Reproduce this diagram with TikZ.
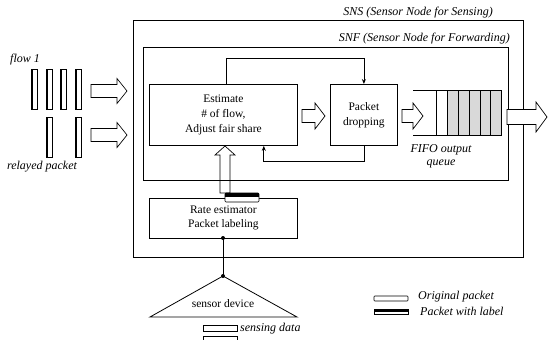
\documentclass[tikz,border=0pt]{standalone}
\usepackage{fontspec}
\setmainfont{Liberation Serif}
\usetikzlibrary{arrows.meta,calc}
% horizontal block arrow: x1, y, x2, shaft half, head half, head length
\newcommand{\myharrow}[6]{%
  \draw[blockarrow] (#1,#2-#4) -- (#3-#6,#2-#4) -- (#3-#6,#2-#5) -- (#3,#2)
     -- (#3-#6,#2+#5) -- (#3-#6,#2+#4) -- (#1,#2+#4) -- cycle;}
% vertical block arrow pointing up: x, y bottom, y tip, shaft half, head half, head length
\newcommand{\myvarrow}[6]{%
  \draw[blockarrow,fill=none] (#1-#4,#2) -- (#1-#4,#3+#6) -- (#1-#5,#3+#6) -- (#1,#3)
     -- (#1+#5,#3+#6) -- (#1+#4,#3+#6) -- (#1+#4,#2) -- cycle;}
\begin{document}
\begin{tikzpicture}[x=1pt,y=-1pt,
  box/.style={draw,line width=0.8pt,align=center,inner sep=0pt,font=\fontsize{11.5}{15}\selectfont},
  lbl/.style={font=\fontsize{12}{13}\selectfont\itshape,inner sep=0pt},
  blockarrow/.style={draw,fill=white,line width=0.7pt,line join=miter},
  fb/.style={line width=0.8pt,-{Stealth[length=5pt,width=4pt]}},
  pkt/.style={draw,line width=0.6pt},
  frame/.style={draw,line width=0.9pt}]
\useasboundingbox (0,0) rectangle (552,340);
% frames
\draw[frame] (133,20) rectangle (523,257);
\draw[frame] (143,47) rectangle (508,180);
\node[lbl,anchor=south east] (snslbl) at (493,18) {SNS (Sensor Node for Sensing)};
\node[lbl,anchor=south east] (snflbl) at (510,44) {SNF (Sensor Node for Forwarding)};
% boxes
\node[box,minimum width=148pt,minimum height=61pt,anchor=north west] (est) at (149,84)
  {Estimate\\\# of flow,\\Adjust fair share};
\node[box,minimum width=67pt,minimum height=61pt,anchor=north west] (drop) at (330,84)
  {Packet\\dropping};
\node[box,minimum width=148pt,minimum height=40pt,anchor=north west,font=\fontsize{11.5}{14}\selectfont] (rate) at (149,198)
  {Rate estimator\\Packet labeling};
% feedback lines
\draw[fb] ($(est.north west)+(77,0)$) -- ++(0,-26) -| (drop.north);
\draw[fb] (drop.south) -- ++(0,16) -| ($(est.south east)+(-34,0)$);
% block arrows
\myharrow{91}{91}{127}{6.5}{12.5}{10}
\myharrow{91}{135}{127}{6.5}{12.5}{10}
\myharrow{302}{116}{325}{6.5}{13}{10}
\myharrow{402}{116}{423}{6.5}{13}{10}
\myharrow{507}{117}{547}{7.5}{15}{11}
\myvarrow{225}{193}{146}{5}{10}{9}
% queue
\fill[gray!30] (447,90) rectangle (501,135);
\draw[line width=0.8pt] (413,90) -- (501,90) -- (501,135) -- (413,135);
\foreach \x in {436,447,458,469,480,490}
  \draw[line width=0.6pt] (\x,90) -- (\x,135);
\node[lbl,align=center] (fifo) at (441,156) {FIFO output\\queue};
% labeled packet
\draw[pkt,fill=white,rounded corners=1pt] (225,193) rectangle (259,202);
\fill (225,193) rectangle (259,197);
% flow packets
\foreach \x in {31,46,60,75}{
  \draw[pkt] (\x,69) rectangle (\x+6,109);
  \draw[line width=1.8pt] (\x+0.9,69) -- (\x+0.9,109);}
\foreach \x in {46,75}{
  \draw[pkt] (\x,117) rectangle (\x+6,157);
  \draw[line width=1.8pt] (\x+0.9,117) -- (\x+0.9,157);}
\node[lbl,anchor=west] (flow) at (10,60) {flow 1};
\node[lbl] (relayed) at (42,167) {relayed packet};
% sensor
\coordinate (apex) at (223,276);
\coordinate (rb) at (223,238);
\draw[line width=0.8pt] (rb) -- (apex);
\fill (rb) circle (2pt);
\fill (apex) circle (2pt);
\draw[line width=0.8pt] (apex) -- (150,317) -- (297,317) -- cycle;
\node[font=\fontsize{11.5}{13}\selectfont] (sensor) at (223,304) {sensor device};
\draw[pkt] (203,325) rectangle (237,331);
\draw[pkt] (203,336) rectangle (237,342);
\node[lbl,anchor=west] (sdata) at (240,329) {sensing data};
% legend
\draw[pkt,rounded corners=0.8pt] (374,296) rectangle (408,301);
\node[lbl,anchor=west] (orig) at (418,297) {Original packet};
\draw[pkt] (374,309) rectangle (408,314);
\fill (374,309) rectangle (408,312);
\node[lbl,anchor=west] (withl) at (420,311) {Packet with label};
\end{tikzpicture}
\end{document}
